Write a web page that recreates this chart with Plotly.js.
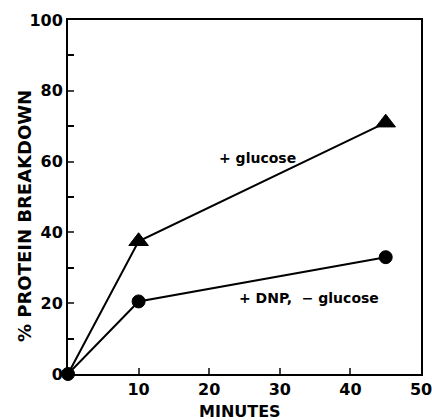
<!DOCTYPE html>
<html><head><meta charset="utf-8">
<script src="https://cdn.plot.ly/plotly-3.0.1.min.js"></script>
<style>html,body{margin:0;padding:0;background:#fff}#c{width:432px;height:420px}</style>
</head><body><div id="c"></div>
<script>
const minutes = [0, 10, 45];
const glucose = [0, 37.5, 71];
const dnpNoGlucose = [0, 20.5, 33];
const xTicks = [10, 20, 30, 40, 50];
const yTicks = [0, 20, 40, 60, 80, 100];
const yMinor = [10, 30, 50, 70, 90];

const fnt = {family: 'DejaVu Sans, sans-serif', color: '#000', weight: 'bold'};
const f = s => Object.assign({size: s}, fnt);
const traces = [
  {x: minutes, y: glucose, mode: 'lines', line: {color: '#000', width: 2}, showlegend: false, cliponaxis: false},
  {x: minutes.slice(1), y: glucose.slice(1), mode: 'markers',
   marker: {symbol: 'triangle-up', size: 17, color: 'rgb(0,0,0)', opacity: 1, line: {color: 'rgb(0,0,0)', width: 1}},
   showlegend: false, cliponaxis: false},
  {x: minutes, y: dnpNoGlucose, mode: 'lines+markers', line: {color: '#000', width: 2},
   marker: {symbol: 'circle', size: 13, color: '#000', line: {color: '#000', width: 1}}, showlegend: false, cliponaxis: false}
];
const layout = {
  width: 432, height: 420,
  margin: {l: 68, r: 11, t: 20, b: 46},
  paper_bgcolor: '#fff', plot_bgcolor: '#fff',
  xaxis: {range: [0, 50], tickvals: xTicks, ticks: 'inside', ticklen: 6, tickwidth: 2, ticklabeloverflow: 'allow',
    showline: true, linewidth: 2, linecolor: '#000', mirror: true, showgrid: false, zeroline: false,
    tickfont: f(16)},
  yaxis: {range: [0, 100], tickvals: yTicks, ticks: 'inside', ticklen: 6, tickwidth: 2, ticklabeloverflow: 'allow',
    minor: {tickvals: yMinor, ticks: 'inside', ticklen: 6, tickwidth: 2, tickcolor: '#000'},
    showline: true, linewidth: 2, linecolor: '#000', mirror: true, showgrid: false, zeroline: false,
    tickfont: f(16)},
  annotations: [
    {x: -0.125, y: 0.446, xref: 'paper', yref: 'paper', xanchor: 'center', yanchor: 'middle',
     text: '% PROTEIN BREAKDOWN', textangle: -90, showarrow: false, font: f(18)},
    {x: 0.487, y: -0.107, xref: 'paper', yref: 'paper', xanchor: 'center', yanchor: 'middle',
     text: 'MINUTES', showarrow: false, font: f(16)},
    {x: 26.8, y: 60.9, xref: 'x', yref: 'y', text: '+ glucose', showarrow: false, font: f(14)},
    {x: 34.2, y: 21.5, xref: 'x', yref: 'y', text: '+ DNP,  − glucose', showarrow: false, font: f(14)}
  ]
};
Plotly.newPlot('c', traces, layout, {staticPlot: true, displayModeBar: false});
</script></body></html>
